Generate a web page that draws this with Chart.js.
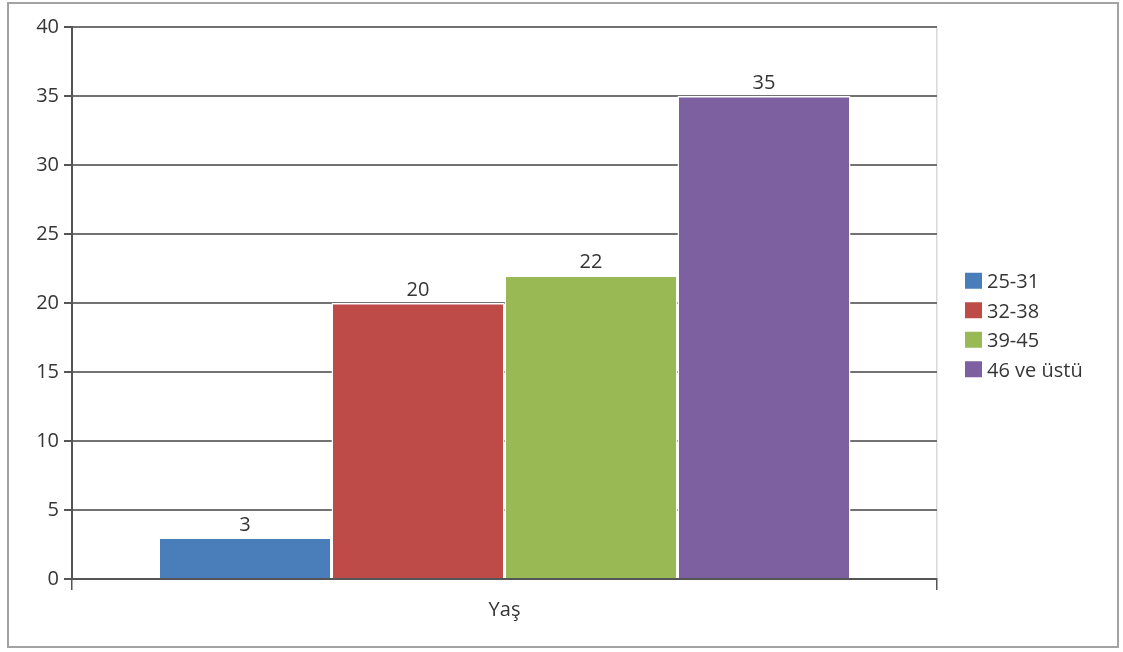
<!DOCTYPE html>
<html>
<head>
<meta charset="utf-8">
<script src="https://cdn.jsdelivr.net/npm/chart.js@4/dist/chart.umd.min.js"></script>
<style>
  html, body { margin: 0; padding: 0; background: #fff; }
  #wrap { width: 1123px; height: 652px; position: relative; }
</style>
</head>
<body>
<div id="wrap"><canvas id="chart"></canvas></div>
<script>
// data
const categories = ['Yaş'];
const seriesNames = ['25-31', '32-38', '39-45', '46 ve üstü'];
const seriesValues = [3, 20, 22, 35];
const seriesColors = ['#4a7ebb', '#be4b48', '#98b954', '#7d60a0'];
const yMin = 0;
const yMax = 40;
const yStep = 5;

const FONT = '"Open Sans", "Noto Sans", sans-serif';
const TEXT = '#353535';
const GRID = '#727272';
const SIZE = 20;

// white page + grey frame around the whole chart
const framePlugin = {
    id: 'frame',
    beforeDraw(chart) {
        const c = chart.ctx;
        c.save();
        c.fillStyle = '#fff';
        c.fillRect(0, 0, chart.width, chart.height);
        c.strokeStyle = '#a3a3a3';
        c.lineWidth = 2;
        c.strokeRect(8, 3, 1110, 644);
        c.restore();
    }
};

// value above every bar
const valueLabels = {
    id: 'valueLabels',
    afterDatasetsDraw(chart) {
        const c = chart.ctx;
        c.save();
        c.font = SIZE + 'px ' + FONT;
        c.fillStyle = TEXT;
        c.textAlign = 'center';
        c.textBaseline = 'alphabetic';
        chart.data.datasets.forEach(function(ds, i) {
            chart.getDatasetMeta(i).data.forEach(function(bar, j) {
                c.fillText(String(ds.data[j]), bar.x, bar.y - 7);
            });
        });
        c.restore();
    }
};

// excel-like legend on the right
const sideLegend = {
    id: 'sideLegend',
    afterDraw(chart) {
        const c = chart.ctx;
        const items = chart.data.datasets;
        const rowH = 29.5;
        const top = chart.height / 2 - (items.length - 1) * rowH / 2;
        c.save();
        c.font = SIZE + 'px ' + FONT;
        c.textBaseline = 'middle';
        items.forEach(function(ds, i) {
            const y = top + i * rowH;
            c.fillStyle = ds.backgroundColor;
            c.fillRect(965, y - 9, 17, 16);
            c.fillStyle = TEXT;
            c.fillText(ds.label, 987, y + 1);
        });
        c.restore();
    }
};

const datasets = seriesNames.map(function(name, i) {
    return {
        label: name,
        data: [seriesValues[i]],
        backgroundColor: seriesColors[i],
        borderColor: '#ffffff',
        borderWidth: 1.5,
        categoryPercentage: 0.8,
        barPercentage: 1
    };
});

new Chart(document.getElementById('chart'), {
    type: 'bar',
    data: { labels: categories, datasets: datasets },
    plugins: [framePlugin, valueLabels, sideLegend],
    options: {
        responsive: true,
        maintainAspectRatio: false,
        animation: false,
        layout: { padding: { top: 27, right: 186, left: 0, bottom: 0 } },
        plugins: {
            legend: { display: false },
            tooltip: { enabled: false }
        },
        scales: {
            x: {
                grid: {
                    offset: true,
                    color: function(ctx) { return ctx.index === 0 ? GRID : '#d9d9d9'; },
                    lineWidth: 1.5,
                    tickColor: '#555',
                    tickLength: 11
                },
                border: { color: '#555', width: 2 },
                ticks: {
                    font: { family: FONT, size: SIZE },
                    color: TEXT,
                    padding: 8
                },
                afterFit: function(scale) { scale.height = 73; }
            },
            y: {
                min: yMin,
                max: yMax,
                grid: {
                    color: GRID,
                    lineWidth: 2,
                    tickColor: '#555',
                    tickLength: 8
                },
                border: { color: '#555', width: 2 },
                ticks: {
                    stepSize: yStep,
                    font: { family: FONT, size: SIZE },
                    color: TEXT,
                    padding: 5
                },
                afterFit: function(scale) { scale.width = 72; }
            }
        }
    }
});
</script>
</body>
</html>
